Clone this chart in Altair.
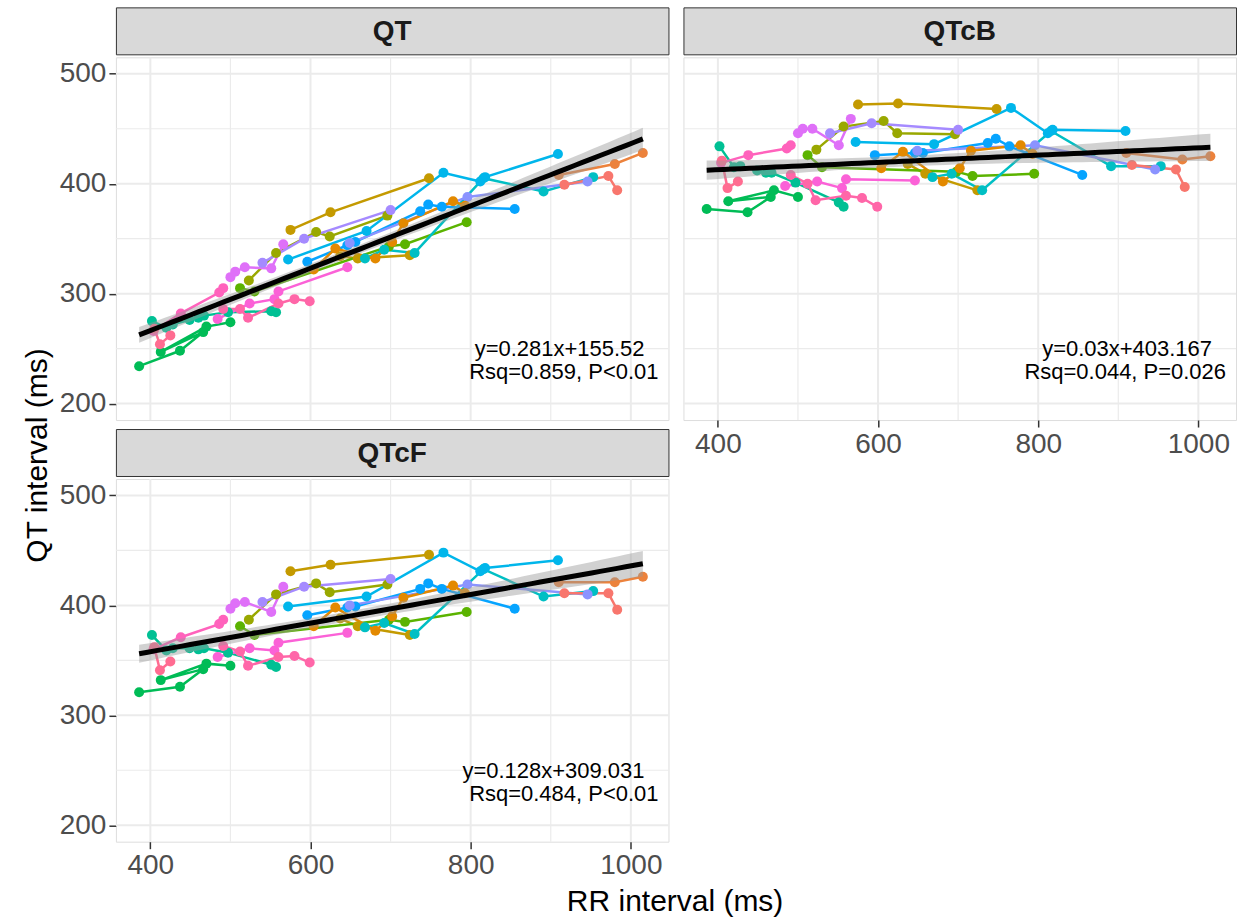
import altair as alt
import pandas as pd
import numpy as np

# ---------------- data ----------------
subject_names = ["s01", "s02", "s03", "s04", "s05", "s06", "s07", "s08", "s09", "s10",
                 "s11", "s12", "s13", "s14", "s15", "s16", "s17", "s18", "s19"]
subject_colors = ["#C49A00", "#C49A00", "#99A800", "#5BB300", "#00BC56", "#00C094", "#00BFC4",
                  "#00B6EB", "#06A4FF", "#A58AFF", "#8B93FF", "#DF70F8", "#FB61D7", "#FF62BC",
                  "#FF66A8", "#FF6C91", "#F8766D", "#EC823C", "#E38900"]

subject = (["s01"] * 3 + ["s02"] * 3 + ["s03"] * 5 + ["s04"] * 5 + ["s05"] * 6 + ["s06"] * 9 +
           ["s07"] * 6 + ["s08"] * 6 + ["s09"] * 7 + ["s10"] * 3 + ["s11"] * 3 + ["s12"] * 5 +
           ["s13"] * 5 + ["s14"] * 4 + ["s15"] * 6 + ["s16"] * 3 + ["s17"] * 3 + ["s18"] * 3 +
           ["s19"] * 7)

rr = [575, 625, 748,
      637, 659, 724,
      523, 557, 607, 624, 696,
      512, 530, 698, 718, 795,
      386, 437, 466, 413, 470, 500,
      402, 420, 428, 449, 460, 467, 497, 551, 557,
      668, 692, 730, 816, 891, 953,
      572, 670, 766, 812, 818, 909,
      596, 646, 656, 737, 747, 764, 855,
      540, 592, 700,
      649, 796, 946,
      500, 506, 518, 551, 566,
      484, 524, 555, 560, 646,
      404, 438, 486, 491,
      491, 512, 522, 560, 580, 599,
      405, 412, 425,
      917, 972, 983,
      910, 980, 1015,
      604, 631, 681, 702, 716, 778, 793]

qt = [358, 374, 405,
      334, 332, 335,
      312, 337, 356, 352, 371,
      305, 302, 343, 345, 365,
      234, 248, 265, 247, 270, 274,
      275, 269, 272, 276, 278, 280, 283, 284, 283,
      332, 340, 337, 405, 393, 406,
      331, 357, 410, 402, 406, 427,
      329, 344, 347, 375, 381, 379, 377,
      328, 350, 376,
      346, 388, 402,
      315, 320, 324, 323, 345,
      277, 291, 295, 302, 324,
      266, 282, 301, 305,
      286, 286, 278, 291, 295, 293,
      268, 254, 262,
      399, 407, 394,
      408, 418, 428,
      322, 341, 332, 347, 364, 384, 380]

qtcb = [472, 473, 468,
        418, 409, 394,
        431, 452, 457, 446, 445,
        426, 415, 411, 407, 409,
        377, 374, 388, 384, 394, 388,
        434, 415, 416, 412, 410, 410, 401, 383, 379,
        406, 409, 394, 448, 416, 416,
        438, 436, 469, 446, 449, 448,
        426, 428, 428, 437, 441, 434, 408,
        446, 455, 449,
        430, 435, 413,
        446, 450, 450, 435, 459,
        398, 402, 396, 404, 403,
        419, 426, 432, 435,
        408, 400, 385, 389, 387, 379,
        421, 396, 402,
        417, 413, 397,
        428, 422, 425,
        414, 429, 402, 414, 430, 435, 427]

qtcf = [431, 437, 446,
        388, 381, 373,
        387, 410, 420, 412, 419,
        381, 373, 387, 385, 394,
        321, 326, 342, 332, 347, 345,
        373, 359, 361, 361, 360, 361, 357, 346, 344,
        380, 384, 374, 433, 408, 413,
        399, 408, 448, 431, 434, 441,
        391, 398, 399, 415, 420, 415, 397,
        403, 417, 424,
        400, 419, 410,
        397, 402, 403, 394, 417,
        353, 361, 359, 366, 375,
        360, 371, 383, 387,
        363, 358, 345, 353, 354, 348,
        362, 341, 349,
        411, 411, 396,
        421, 421, 426,
        381, 398, 377, 390, 407, 418, 411]

panel_names = ["QT", "QTcB", "QTcF"]
eq_labels = ["y=0.281x+155.52", "y=0.03x+403.167", "y=0.128x+309.031"]
stat_labels = ["Rsq=0.859, P<0.01", "Rsq=0.044, P=0.026", "Rsq=0.484, P<0.01"]

x_major = [400, 600, 800, 1000]
x_minor = [500, 700, 900]
y_major = [200, 300, 400, 500]
y_minor = [250, 350, 450]

# ---------------- layout / style ----------------
W, H, STRIP = 553, 363, 47
FONT = "Liberation Sans"
xscale = alt.Scale(domain=[357, 1047], nice=False, zero=False)
yscale = alt.Scale(domain=[185, 515], nice=False, zero=False)

df = pd.DataFrame({"subject": subject, "RR": rr, "QT": qt, "QTcB": qtcb, "QTcF": qtcf})
df["ord"] = np.arange(len(df))

color = alt.Color("subject:N", scale=alt.Scale(domain=subject_names, range=subject_colors), legend=None)


def fit_band(x, y):
    x = np.asarray(x, float)
    y = np.asarray(y, float)
    n = len(x)
    xm, ym = x.mean(), y.mean()
    sxx = ((x - xm) ** 2).sum()
    b1 = ((x - xm) * (y - ym)).sum() / sxx
    b0 = ym - b1 * xm
    s = np.sqrt(((y - (b0 + b1 * x)) ** 2).sum() / (n - 2))
    g = np.linspace(x.min(), x.max(), 60)
    fit = b0 + b1 * g
    se = s * np.sqrt(1.0 / n + (g - xm) ** 2 / sxx)
    t = 1.987
    return pd.DataFrame({"x": g, "fit": fit, "lo": fit - t * se, "hi": fit + t * se})


def xaxis(show):
    if not show:
        return None
    return alt.Axis(values=x_major, format="d", title=None, grid=False, domain=False, ticks=True,
                    tickSize=7, tickWidth=1.5, tickColor="#333333", labelColor="#4D4D4D",
                    labelFontSize=28, labelFont=FONT, labelPadding=3)


def yaxis(show):
    if not show:
        return None
    return alt.Axis(values=y_major, format="d", title=None, grid=False, domain=False, ticks=True,
                    tickSize=7, tickWidth=1.5, tickColor="#333333", labelColor="#4D4D4D",
                    labelFontSize=28, labelFont=FONT, labelPadding=3)


def panel(i, show_x, show_y):
    m = panel_names[i]
    xa, ya = xaxis(show_x), yaxis(show_y)
    gx1 = alt.Chart(pd.DataFrame({"v": x_major})).mark_rule(color="#EBEBEB", strokeWidth=2).encode(
        x=alt.X("v:Q", scale=xscale, axis=xa))
    gx2 = alt.Chart(pd.DataFrame({"v": x_minor})).mark_rule(color="#EBEBEB", strokeWidth=1.2).encode(
        x=alt.X("v:Q", scale=xscale, axis=xa))
    gy1 = alt.Chart(pd.DataFrame({"v": y_major})).mark_rule(color="#EBEBEB", strokeWidth=2).encode(
        y=alt.Y("v:Q", scale=yscale, axis=ya))
    gy2 = alt.Chart(pd.DataFrame({"v": y_minor})).mark_rule(color="#EBEBEB", strokeWidth=1.2).encode(
        y=alt.Y("v:Q", scale=yscale, axis=ya))
    base = alt.Chart(df).encode(
        x=alt.X("RR:Q", scale=xscale, axis=xa),
        y=alt.Y(f"{m}:Q", scale=yscale, axis=ya),
        color=color,
    )
    lines = base.mark_line(strokeWidth=2.5).encode(order="ord:Q", detail="subject:N")
    pts = base.mark_circle(size=100, opacity=1)
    band_df = fit_band(rr, df[m].values)
    band = alt.Chart(band_df).mark_area(color="#999999", opacity=0.45).encode(
        x=alt.X("x:Q", scale=xscale, axis=xa), y=alt.Y("lo:Q", scale=yscale, axis=ya), y2="hi:Q")
    fitl = alt.Chart(band_df).mark_line(color="black", strokeWidth=5).encode(
        x=alt.X("x:Q", scale=xscale, axis=xa), y=alt.Y("fit:Q", scale=yscale, axis=ya))
    t1 = alt.Chart(pd.DataFrame({"t": [eq_labels[i]]})).mark_text(
        align="right", baseline="middle", fontSize=22, font=FONT, color="black").encode(
        text="t:N", x=alt.value(W - 24), y=alt.value(292))
    t2 = alt.Chart(pd.DataFrame({"t": [stat_labels[i]]})).mark_text(
        align="right", baseline="middle", fontSize=22, font=FONT, color="black").encode(
        text="t:N", x=alt.value(W - 10), y=alt.value(315))
    return alt.layer(gx2, gx1, gy2, gy1, lines, pts, band, fitl, t1, t2).properties(width=W, height=H)


def strip(i):
    return alt.Chart(pd.DataFrame({"label": [panel_names[i]]})).mark_text(
        fontSize=28, fontWeight="bold", font=FONT, color="#1A1A1A", baseline="middle", align="center"
    ).encode(text="label:N", x=alt.value(W / 2), y=alt.value(STRIP / 2 + 1)).properties(
        width=W, height=STRIP, view=alt.ViewBackground(fill="#D9D9D9", stroke="#333333", strokeWidth=1))


def block(i, show_x, show_y):
    return alt.vconcat(strip(i), panel(i, show_x, show_y), spacing=0)


col1 = alt.vconcat(block(0, False, True), block(2, True, True), spacing=6).properties(
    title=alt.TitleParams("QT interval (ms)", orient="left", anchor="middle", fontSize=30,
                          font=FONT, fontWeight="normal", color="black", offset=6, dx=-12))
col2 = block(1, True, False)

chart = alt.hconcat(col1, col2, spacing=11).properties(
    title=alt.TitleParams("RR interval (ms)", orient="bottom", anchor="middle", fontSize=30,
                          font=FONT, fontWeight="normal", color="black", offset=7, dx=45),
    padding={"left": 22, "top": 6, "right": 10, "bottom": 5},
).configure_view(stroke="#333333", strokeWidth=1.2, fill="white").configure(background="white")

chart.save("out.html", embed_options={"renderer": "svg", "actions": False})
